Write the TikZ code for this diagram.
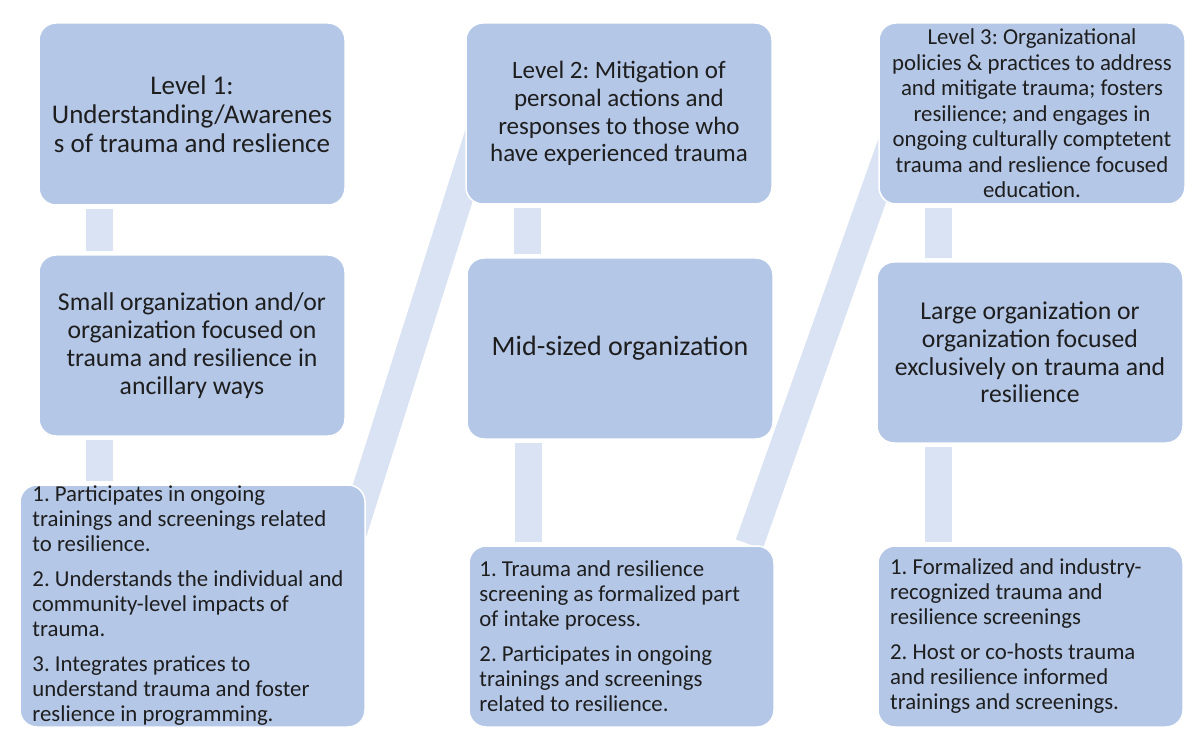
\documentclass[tikz,border=0pt]{standalone}
\usepackage{fontspec}
\setmainfont{Carlito}
\usetikzlibrary{calc,backgrounds}
\definecolor{boxfill}{HTML}{B4C7E7}
\definecolor{connfill}{HTML}{DAE3F3}
\definecolor{txt}{HTML}{1E1E1E}
\frenchspacing
\begin{document}
\begin{tikzpicture}[x=1pt,y=-1pt,
  box/.style={draw=white, line width=1.5pt, fill=boxfill, rounded corners=17pt, inner sep=0pt, text=txt, align=center},
  vconn/.style={draw=connfill, line width=27pt, shorten >=3pt, shorten <=3pt},
  band/.style={draw=connfill, line width=28.5pt},
  listtxt/.style={anchor=west, align=left, inner sep=0pt, text=txt, font=\fontsize{22.8}{25}\selectfont}]
\useasboundingbox (0,0) rectangle (1200,751);

% column 1
\node[box, minimum width=306pt, minimum height=182pt, font=\fontsize{27}{29}\selectfont] (a1) at (192,114)
  {Level 1:\\Understanding/Awarenes\\s of trauma and reslience};
\node[box, minimum width=306pt, minimum height=181pt, font=\fontsize{25.7}{27.8}\selectfont] (a2) at (192,345.5)
  {Small organization and/or\\organization focused on\\trauma and resilience in\\ancillary ways};
\node[box, minimum width=345pt, minimum height=242pt] (a3) at (192.5,606) {};
\node[listtxt] (a3t) at ($(a3.west)+(13,0)$)
  {1. Participates in ongoing\\trainings and screenings related\\to resilience.\\[10pt]2. Understands the individual and\\community-level impacts of\\trauma.\\[10pt]3. Integrates pratices to\\understand trauma and foster\\reslience in programming.};

% column 2
\node[box, minimum width=306pt, minimum height=181pt, font=\fontsize{25}{27.7}\selectfont] (b1) at (619,113.5)
  {Level 2: Mitigation of\\personal actions and\\responses to those who\\have experienced trauma};
\node[box, minimum width=306pt, minimum height=181pt, font=\fontsize{28}{30}\selectfont] (b2) at (620,348.5)
  {Mid-sized organization};
\node[box, minimum width=305pt, minimum height=181pt] (b3) at (621.5,636.5) {};
\node[listtxt] (b3t) at ($(b3.west)+(11,0)$)
  {1. Trauma and resilience\\screening as formalized part\\of intake process.\\[10pt]2. Participates in ongoing\\trainings and screenings\\related to resilience.};

% column 3
\node[box, minimum width=306pt, minimum height=181pt, font=\fontsize{22.8}{25.5}\selectfont] (c1) at (1032,113.5)
  {Level 3: Organizational\\policies \& practices to address\\and mitigate trauma; fosters\\resilience; and engages in\\ongoing culturally comptetent\\trauma and reslience focused\\education.};
\node[box, minimum width=306pt, minimum height=181pt, font=\fontsize{25.7}{27.7}\selectfont] (c2) at (1030,352.5)
  {Large organization or\\organization focused\\exclusively on trauma and\\resilience};
\node[box, minimum width=305pt, minimum height=181pt] (c3) at (1030.5,636.5) {};
\node[listtxt] (c3t) at ($(c3.west)+(12.7,0)$)
  {1. Formalized and industry-\\recognized trauma and\\resilience screenings\\[10pt]2. Host or co-hosts trauma\\and resilience informed\\trainings and screenings.};

% vertical connectors
\draw[vconn] ($(a1.south west)+(61.5,0)$) -- ($(a2.north west)+(61.5,0)$);
\draw[vconn] ($(a2.south west)+(61.5,0)$) -- ($(a3.north west)+(80.5,0)$);
\draw[vconn] ($(b1.south west)+(62,0)$) -- ($(b2.north west)+(61,0)$);
\draw[vconn] ($(b2.south west)+(62.5,0)$) -- ($(b3.north west)+(60.5,0)$);
\draw[vconn] ($(c1.south west)+(60.5,0)$) -- ($(c2.north west)+(62.5,0)$);
\draw[vconn] ($(c2.south west)+(62,0)$) -- ($(c3.north west)+(61,0)$);

% background: white page and diagonal bands
\begin{scope}[on background layer]
\fill[white] (0,0) rectangle (1200,751);
\draw[band] ($(a3.north east)+(-21.6,75)$) -- ($(b1.south west)+(24.3,-104)$);
\draw[band] ($(b3.north east)+(-25.5,-1)$) -- ($(c1.south west)+(28.8,-104)$);
\end{scope}
\end{tikzpicture}
\end{document}
